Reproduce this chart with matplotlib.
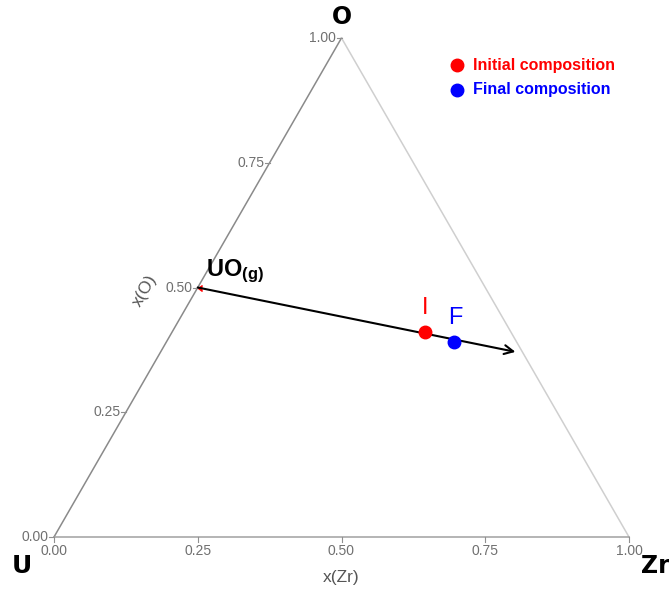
import numpy as np
import matplotlib.pyplot as plt

plt.rcParams['font.family'] = 'Liberation Sans'
plt.rcParams['mathtext.fontset'] = 'custom'
plt.rcParams['mathtext.bf'] = 'Liberation Sans:bold'
plt.rcParams['mathtext.rm'] = 'Liberation Sans'

# compositions (mole fractions)
ticks = [0.0, 0.25, 0.5, 0.75, 1.0]
tick_labels = ['0.00', '0.25', '0.50', '0.75', '1.00']
initial = {'Zr': 0.44, 'O': 0.411}
final = {'Zr': 0.50, 'O': 0.391}
uo_start = {'Zr': 0.0, 'O': 0.5}
arrow_end = {'Zr': 0.617, 'O': 0.371}

H = np.sqrt(3) / 2


def tern(zr, o):
    # x(Zr), x(O) -> cartesian
    return zr + o / 2, o * H


fig = plt.figure(figsize=(6.69, 5.93), dpi=100)
ax = fig.add_axes([54 / 669, 56 / 593, 575 / 669, 499 / 593])
ax.set_xlim(0, 1)
ax.set_ylim(0, H)
ax.axis('off')

# triangle edges
U = tern(0, 0)
Zr = tern(1, 0)
O = tern(0, 1)
ax.plot([U[0], O[0]], [U[1], O[1]], color='#8a8a8a', lw=1.1, clip_on=False)
ax.plot([O[0], Zr[0]], [O[1], Zr[1]], color='#cfcfcf', lw=1.1, clip_on=False)
ax.plot([U[0], Zr[0]], [U[1], Zr[1]], color='#a0a0a0', lw=1.1, clip_on=False)

tcol = '#707070'
# bottom axis ticks, x(Zr)
for t, lab in zip(ticks, tick_labels):
    x, y = tern(t, 0)
    ax.plot([x, x], [y, y - 0.008], color='#909090', lw=0.8, clip_on=False)
    ax.text(x, y - 0.013, lab, ha='center', va='top', fontsize=10, color=tcol)
ax.text(0.5, -0.058, 'x(Zr)', ha='center', va='top', fontsize=12.5, color='#555555')

# left axis ticks, x(O)
for t, lab in zip(ticks, tick_labels):
    x, y = tern(0, t)
    ax.plot([x - 0.008, x], [y, y], color='#909090', lw=0.8, clip_on=False)
    ax.text(x - 0.009, y, lab, ha='right', va='center', fontsize=10, color=tcol)
ax.text(0.158, 0.428, 'x(O)', ha='center', va='center', fontsize=12.5,
        color='#555555', rotation=60)

# corner labels
ax.text(-0.055, -0.05, 'U', ha='center', va='center', fontsize=18, fontweight='heavy',
        family='DejaVu Sans')
ax.text(1.045, -0.05, 'Zr', ha='center', va='center', fontsize=17, fontweight='heavy',
        family='DejaVu Sans')
ax.text(0.5, H + 0.036, 'O', ha='center', va='center', fontsize=17, fontweight='heavy',
        family='DejaVu Sans')

# arrow from UO(g)
x0, y0 = tern(uo_start['Zr'], uo_start['O'])
x1, y1 = tern(arrow_end['Zr'], arrow_end['O'])
ax.annotate('', xy=(x1, y1), xytext=(x0, y0),
            arrowprops=dict(arrowstyle='->', color='black', lw=1.5,
                            mutation_scale=16, shrinkA=0, shrinkB=0))
ax.plot([x0], [y0], marker=4, color='red', ms=4, clip_on=False)
ax.text(x0 + 0.015, y0 + 0.004, r'$\mathbf{UO_{(g)}}$', ha='left', va='bottom',
        fontsize=17)

# compositions
xi, yi = tern(initial['Zr'], initial['O'])
xf, yf = tern(final['Zr'], final['O'])
ax.plot([xi], [yi], 'o', color='red', ms=9, zorder=5)
ax.plot([xf], [yf], 'o', color='blue', ms=9, zorder=5)
ax.text(xi, yi + 0.022, 'I', color='red', ha='center', va='bottom', fontsize=17)
ax.text(xf + 0.003, yf + 0.022, 'F', color='blue', ha='center', va='bottom', fontsize=17)

# legend
ax.plot([0.701], [0.819], 'o', color='red', ms=9, clip_on=False)
ax.plot([0.701], [0.776], 'o', color='blue', ms=9, clip_on=False)
ax.text(0.728, 0.819, 'Initial composition', color='red', fontweight='bold',
        fontsize=11.5, va='center', ha='left')
ax.text(0.728, 0.776, 'Final composition', color='blue', fontweight='bold',
        fontsize=11.5, va='center', ha='left')

fig.savefig('out.png', dpi=100)
